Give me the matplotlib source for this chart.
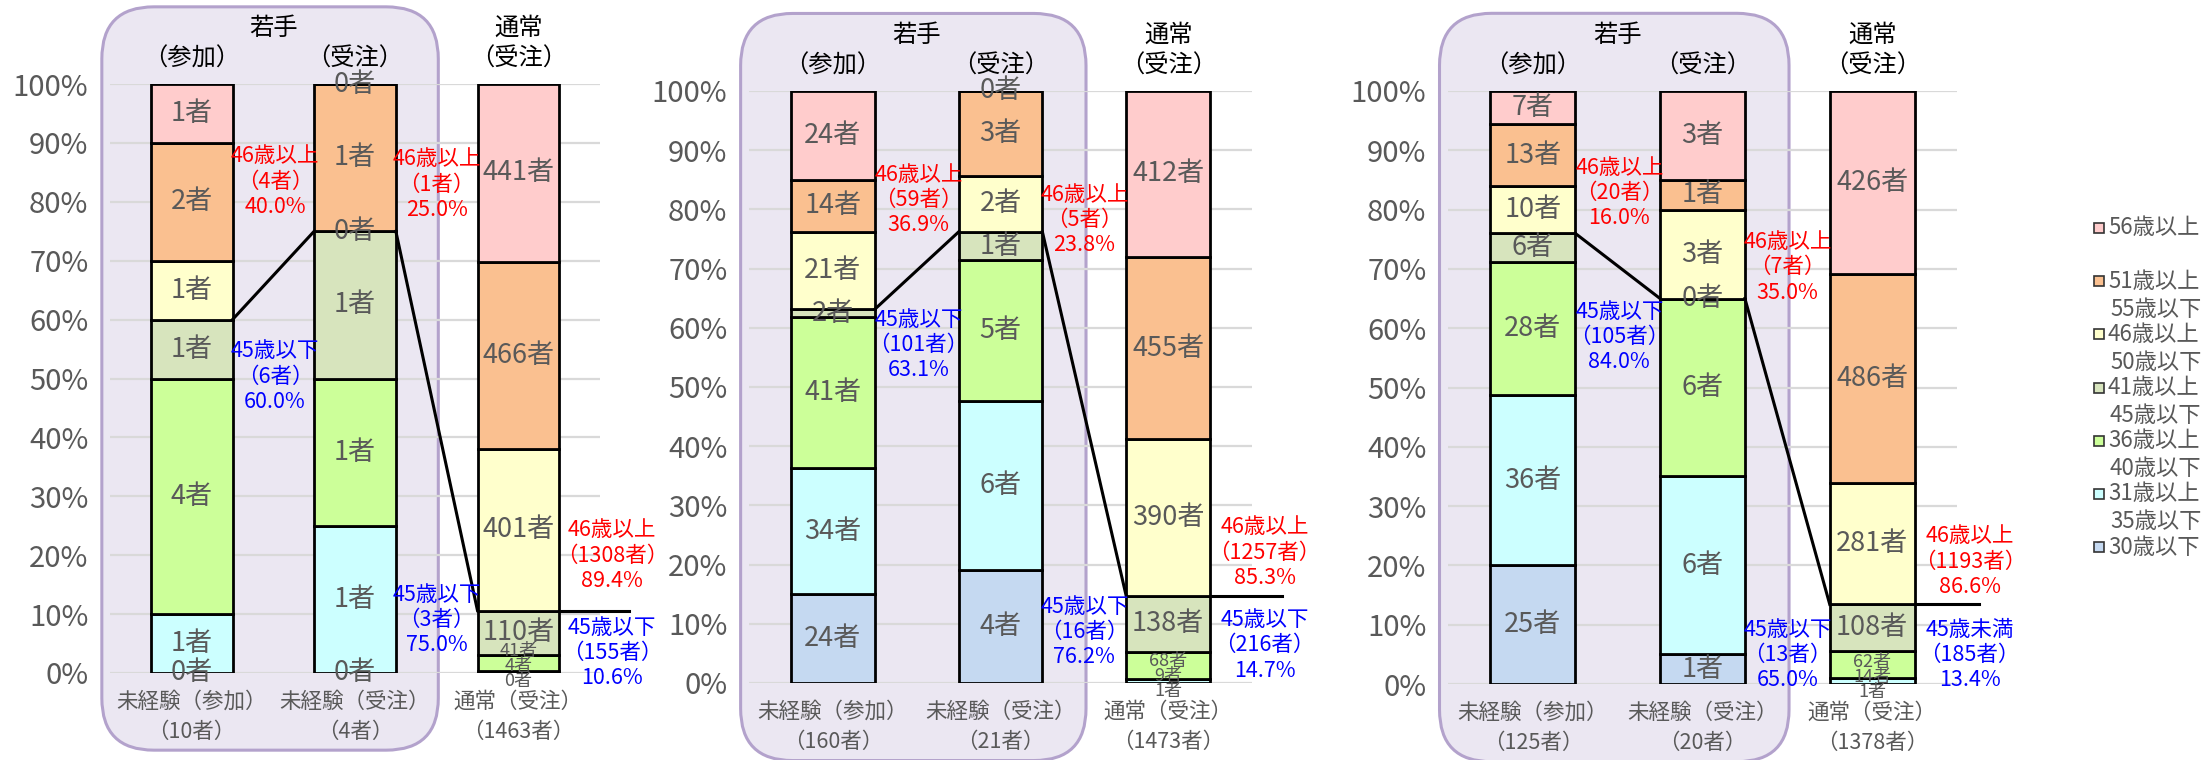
import numpy as np
import matplotlib
matplotlib.use("Agg")
from matplotlib import pyplot as plt
from matplotlib.patches import FancyBboxPatch, Rectangle
from matplotlib.transforms import IdentityTransform

plt.rcParams['font.family'] = ['Noto Sans CJK JP', 'DejaVu Sans']

# age classes, bottom -> top of each bar
ages = ["30歳以下", "31歳以上\n35歳以下", "36歳以上\n40歳以下", "41歳以上\n45歳以下",
        "46歳以上\n50歳以下", "51歳以上\n55歳以下", "56歳以上"]
colors = ["#C5D9F1", "#CCFFFF", "#CCFF99", "#D7E4BD", "#FFFFCC", "#FAC090", "#FFCCCC"]

bar_names = ["未経験（参加）", "未経験（受注）", "通常（受注）"]

# counts per bar (未経験参加, 未経験受注, 通常受注), ages bottom -> top
counts_1 = [[0, 1, 4, 1, 1, 2, 1], [0, 1, 1, 1, 0, 1, 0], [0, 4, 41, 110, 401, 466, 441]]
counts_2 = [[24, 34, 41, 2, 21, 14, 24], [4, 6, 5, 1, 2, 3, 0], [1, 9, 68, 138, 390, 455, 412]]
counts_3 = [[25, 36, 28, 6, 10, 13, 7], [1, 6, 6, 0, 3, 1, 3], [1, 14, 62, 108, 281, 486, 426]]

# annotated totals (as printed on the chart)
over46_1 = [4, 1, 1308]
over46_2 = [59, 5, 1257]
over46_3 = [20, 7, 1193]
under45_1 = [6, 3, 155]
under45_2 = [101, 16, 216]
under45_3 = [105, 13, 185]
under_word_1 = ["45歳以下", "45歳以下", "45歳以下"]
under_word_2 = ["45歳以下", "45歳以下", "45歳以下"]
under_word_3 = ["45歳以下", "45歳以下", "45歳未満"]

panels = [counts_1, counts_2, counts_3]
overs = [over46_1, over46_2, over46_3]
unders = [under45_1, under45_2, under45_3]
under_words = [under_word_1, under_word_2, under_word_3]

# layout (pixels, from top-left)
W, H = 2206, 760
axes_px = [(110, 84, 600, 673), (749, 91, 1252, 683), (1448, 91, 1957, 684)]
red_y = [[0.834, 0.829, 0.199], [0.816, 0.782, 0.220], [0.828, 0.703, 0.206]]
blue_y = [[0.503, 0.090, 0.034], [0.571, 0.086, 0.064], [0.585, 0.049, 0.049]]
ann_x = [0.51, 1.50, 2.575]
hline_end = [2.68, 2.68, 2.63]
width = 0.5
gray = "#595959"

fig = plt.figure(figsize=(W / 100, H / 100), dpi=100)

for p, counts in enumerate(panels):
    l, t, r, b = axes_px[p]
    ax = fig.add_axes([l / W, (H - b) / H, (r - l) / W, (b - t) / H])
    ax.set_facecolor("none")
    ax.set_xlim(-0.5, 2.5)
    ax.set_ylim(0, 1)
    for s in ax.spines.values():
        s.set_visible(False)
    ax.set_yticks(np.arange(0, 1.01, 0.1))
    ax.set_yticklabels([f"{v}%" for v in range(0, 101, 10)])
    ax.tick_params(axis="y", length=0, pad=15.5, labelsize=21, labelcolor=gray)
    ax.set_xticks([])
    ax.yaxis.grid(True, color="#D9D9D9", lw=1.6)
    ax.set_axisbelow(True)

    low_top = []
    for j, row in enumerate(counts):
        row = np.array(row)
        tot = row.sum()
        fr = row / tot
        cum = np.concatenate([[0], np.cumsum(fr)])
        ax.bar(j, fr, bottom=cum[:-1], width=width, color=colors, edgecolor="black",
               linewidth=2.0, zorder=2)
        low_top.append(cum[4])
        idx = 0
        for k, n in enumerate(row):
            if j == 2 and fr[k] < 0.06:
                # tiny segments of the large bar: labels stacked upward
                ax.text(j, -0.013 + 0.025 * idx, f"{n}者", ha="center", va="center",
                        fontsize=13, color=gray, zorder=4)
                idx += 1
            else:
                ax.text(j, cum[k] + fr[k] / 2, f"{n}者", ha="center", va="center",
                        fontsize=19.5, color=gray, zorder=4)
        ax.text(j, -0.049, bar_names[j], ha="center", va="center", fontsize=15.5, color=gray)
        ax.text(j, -0.100, f"（{tot}者）", ha="center", va="center", fontsize=15.5, color=gray)

        # red / blue annotations
        ov, un = overs[p][j], unders[p][j]
        ax.text(ann_x[j], red_y[p][j], f"46歳以上\n（{ov}者）\n{ov / tot * 100:.1f}%",
                ha="center", va="center", fontsize=15.5, color="#FF0000",
                linespacing=1.2, zorder=5)
        ax.text(ann_x[j], blue_y[p][j], f"{under_words[p][j]}\n（{un}者）\n{un / tot * 100:.1f}%",
                ha="center", va="center", fontsize=15.5, color="#0000FF",
                linespacing=1.2, zorder=5)

    # connector lines between the tops of the 45-and-under parts
    h = width / 2
    ax.plot([0 + h, 1 - h], [low_top[0], low_top[1]], color="black", lw=2.2, zorder=3, clip_on=False)
    ax.plot([1 + h, 2 - h], [low_top[1], low_top[2]], color="black", lw=2.2, zorder=3, clip_on=False)
    ax.plot([2 + h, hline_end[p]], [low_top[2], low_top[2]], color="black", lw=2.2, zorder=3, clip_on=False)

    # headers
    ax.text(0.5, 1.095, "若手", ha="center", va="center", fontsize=17.5, color="black")
    ax.text(0, 1.043, "（参加）", ha="center", va="center", fontsize=17.5, color="black")
    ax.text(1, 1.043, "（受注）", ha="center", va="center", fontsize=17.5, color="black")
    ax.text(2, 1.095, "通常", ha="center", va="center", fontsize=17.5, color="black")
    ax.text(2, 1.043, "（受注）", ha="center", va="center", fontsize=17.5, color="black")

    # rounded box behind the young-worker bars
    (x0, y0) = ax.transData.transform((-0.55, -0.131))
    (x1, y1) = ax.transData.transform((1.51, 1.131))
    box = FancyBboxPatch((x0, y0), x1 - x0, y1 - y0,
                         boxstyle="round,pad=0,rounding_size=52",
                         facecolor="#EBE7F2", edgecolor="#B3A2CC", linewidth=2.2,
                         transform=IdentityTransform(), zorder=-1)
    fig.add_artist(box)

# legend, top -> bottom
leg_y0, leg_step = 228, 53.2
for i, k in enumerate(range(len(ages) - 1, -1, -1)):
    yc = leg_y0 + i * leg_step
    fig.add_artist(Rectangle((2094 / W, (H - yc - 5) / H), 10 / W, 10 / H,
                             facecolor=colors[k], edgecolor="#333333", linewidth=1.2,
                             transform=fig.transFigure))
    lines = ages[k].split("\n")
    fig.text(2108 / W, (H - yc) / H, lines[0], ha="left", va="center", fontsize=16, color=gray)
    if len(lines) > 1:
        fig.text(2110 / W, (H - yc - 28) / H, lines[1], ha="left", va="center", fontsize=16, color=gray)

fig.savefig("out.png", dpi=100)
